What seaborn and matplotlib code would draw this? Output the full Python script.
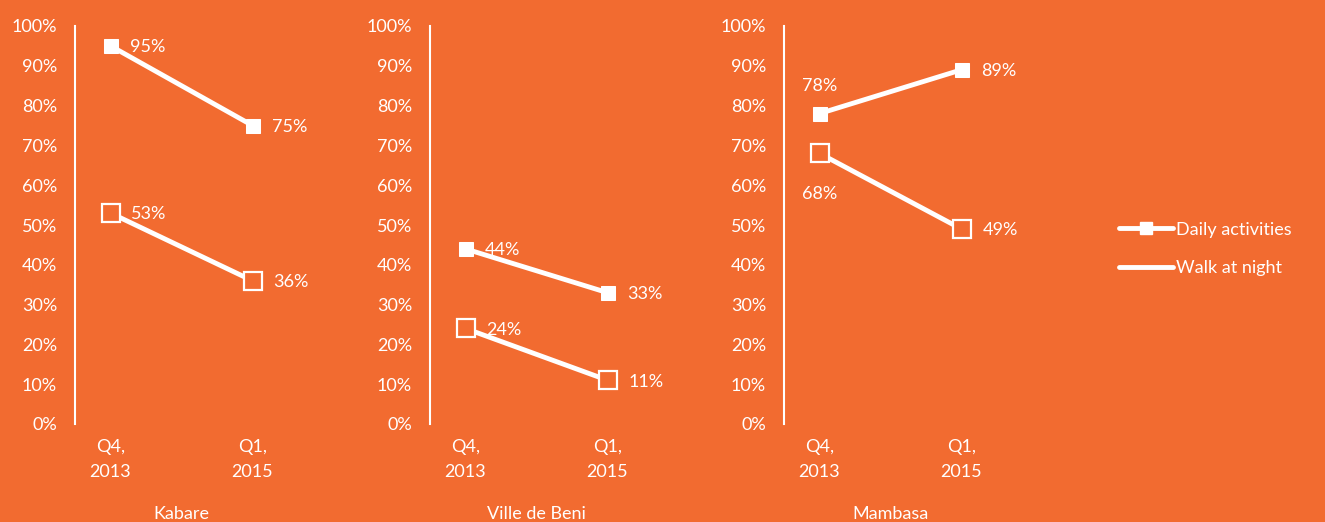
import numpy as np
import pandas as pd
import matplotlib
matplotlib.use("Agg")
import matplotlib.pyplot as plt
import seaborn as sns
from matplotlib.lines import Line2D

# data
periods = ["Q4,\n2013", "Q1,\n2015"]
regions = ["Kabare", "Ville de Beni", "Mambasa"]
daily = {"Kabare": [95, 75], "Ville de Beni": [44, 33], "Mambasa": [78, 89]}
night = {"Kabare": [53, 36], "Ville de Beni": [24, 11], "Mambasa": [68, 49]}
y_ticks = [0, 10, 20, 30, 40, 50, 60, 70, 80, 90, 100]

bg = "#F26B30"
wh = "white"

sns.set_theme(style="white")
plt.rcParams["font.family"] = ["Lato", "DejaVu Sans"]

fig = plt.figure(figsize=(13.25, 5.22), dpi=100)
fig.patch.set_facecolor(bg)

lefts = [75, 430, 784]
W, H = 1325, 522
fs = 13

for reg, lx in zip(regions, lefts):
    ax = fig.add_axes([lx / W, (H - 424) / H, 213 / W, 398 / H])
    ax.set_facecolor(bg)
    df = pd.DataFrame({"period": periods, "daily": daily[reg], "night": night[reg]})
    sns.lineplot(data=df, x="period", y="daily", ax=ax, color=wh, lw=3.5,
                 marker="s", markersize=10, markeredgecolor=wh, markerfacecolor=wh)
    sns.lineplot(data=df, x="period", y="night", ax=ax, color=wh, lw=3.5,
                 marker="s", markersize=13, markeredgecolor=wh, markerfacecolor=bg,
                 markeredgewidth=1.6)
    ax.set_xlim(-0.25, 1.25)
    ax.set_ylim(0, 100)
    ax.set_yticks(y_ticks)
    ax.set_yticklabels([f"{t}%" for t in y_ticks])
    for s in ["top", "right", "bottom"]:
        ax.spines[s].set_visible(False)
    ax.spines["left"].set_color(wh)
    ax.spines["left"].set_linewidth(1.5)
    ax.tick_params(axis="y", length=0, pad=13, labelsize=fs, labelcolor=wh)
    ax.tick_params(axis="x", length=0, pad=11, labelsize=fs, labelcolor=wh)
    for t in ax.get_xticklabels():
        t.set_linespacing(1.7)
    ax.set_ylabel("")
    ax.set_xlabel(reg, color=wh, fontsize=fs)
    ax.xaxis.set_label_coords(0.5, -0.205)

    for i, (d, n) in enumerate(zip(daily[reg], night[reg])):
        if reg == "Mambasa" and i == 0:
            ax.annotate(f"{d}%", (i, d), xytext=(0, 20), textcoords="offset points",
                        ha="center", va="center", color=wh, fontsize=fs)
            ax.annotate(f"{n}%", (i, n), xytext=(0, -29), textcoords="offset points",
                        ha="center", va="center", color=wh, fontsize=fs)
        else:
            ax.annotate(f"{d}%", (i, d), xytext=(14, -1), textcoords="offset points",
                        ha="left", va="center", color=wh, fontsize=fs)
            ax.annotate(f"{n}%", (i, n), xytext=(15, -1), textcoords="offset points",
                        ha="left", va="center", color=wh, fontsize=fs)

handles = [Line2D([], [], color=wh, lw=3.5, marker="s", markersize=8),
           Line2D([], [], color=wh, lw=3.5)]
leg = fig.legend(handles, ["Daily activities", "Walk at night"], loc="center left",
                 bbox_to_anchor=(1103 / W, (H - 249) / H), frameon=False,
                 fontsize=fs, handlelength=3.0, handletextpad=0.15, labelspacing=1.25,
                 labelcolor=wh)

fig.savefig("out.png", dpi=100, facecolor=bg)
